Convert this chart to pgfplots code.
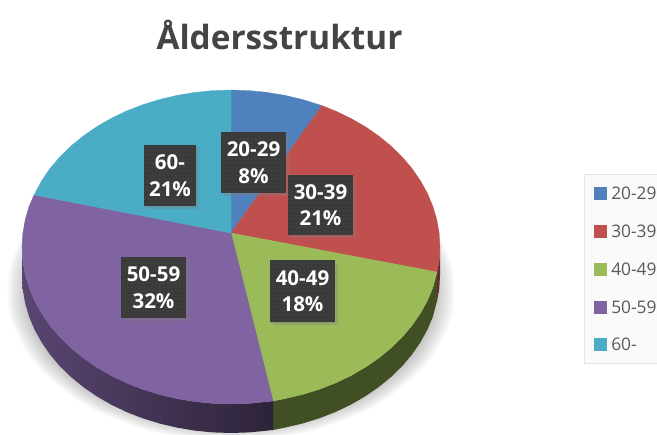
\documentclass[border=0pt]{standalone}
\usepackage{fontspec}
\setmainfont{Open Sans}
\usepackage{pgfplots}
\usepackage{pgfplotstable}
\pgfplotsset{compat=1.18}
\usetikzlibrary{shadows,patterns}
\definecolor{cblue}{HTML}{4F81BD}
\definecolor{cred}{HTML}{C0504D}
\definecolor{cgreen}{HTML}{9BBB59}
\definecolor{cpurple}{HTML}{8064A2}
\definecolor{cteal}{HTML}{4BACC6}
\definecolor{boxc}{HTML}{3A3A3A}
\definecolor{dotc}{HTML}{555555}
\definecolor{titlec}{HTML}{444444}
\definecolor{legc}{HTML}{595959}
\pgfplotstableread{
u v
0 -1
0.342 -0.940
0.643 -0.766
0.866 -0.5
0.985 -0.174
0.985 0.174
0.866 0.5
0.643 0.766
0.342 0.940
0 1
-0.342 0.940
-0.643 0.766
-0.866 0.5
-0.985 0.174
-0.985 -0.174
-0.866 -0.5
-0.643 -0.766
-0.342 -0.940
}\shadowtable
\tikzset{lab/.style={fill=boxc,text=white,font=\fontsize{15.4}{20}\selectfont\bfseries,align=center,
  inner sep=0pt,anchor=center,
  drop shadow={shadow xshift=2pt,shadow yshift=-2pt,opacity=.35},
  postaction={pattern=dots,pattern color=dotc}}}
\begin{document}
\begin{tikzpicture}
\useasboundingbox (0,0) rectangle (492.75pt,326.25pt);
\begin{axis}[at={(0,0)},anchor=south west,scale only axis,width=492.75pt,height=326.25pt,
  xmin=0,xmax=657,ymin=0,ymax=435,y dir=reverse,hide axis,clip=false]
% soft shadow
\pgfplotsinvokeforeach{1,0.99,0.98,0.97,0.96,0.95,0.94,0.93,0.92,0.91}{
\addplot[fill=black,fill opacity=0.028,draw=none,smooth] table[x expr=231+\thisrow{u}*#1*224,y expr=291+\thisrow{v}*#1*150]{\shadowtable} --cycle;
}
% sides
\addplot[draw=none,fill=cred!55!black] coordinates {(437,272)(439.2,260.7)(440,247)(440,276)(439.2,289.7)(437,301)} --cycle;
\addplot[fill=cgreen!42!black,draw=none] coordinates {(437,272)(432.9,287.6)(427.4,300.7)(420.4,313.3)(412,325.5)(402.2,337.1)(391.1,347.9)(378.8,358)(365.3,367.3)(350.9,375.6)(335.5,383)(319.3,389.3)(302.5,394.5)(285.1,398.6)(273,401)(273,430)(285.1,427.6)(302.5,423.5)(319.3,418.3)(335.5,412)(350.9,404.6)(365.3,396.3)(378.8,387)(391.1,376.9)(402.2,366.1)(412,354.5)(420.4,342.3)(427.4,329.7)(432.9,316.6)(437,301)} --cycle;
\addplot[draw=none,left color=cpurple!70!black,right color=cpurple!35!black] coordinates {(273,401)(267.3,401.6)(249.2,403.4)(231,404)(212.8,403.4)(194.7,401.6)(176.9,398.6)(159.5,394.5)(142.7,389.3)(126.5,383)(111.1,375.6)(96.7,367.3)(83.2,358)(70.9,347.9)(59.8,337.1)(50,325.5)(41.6,313.3)(34.6,300.7)(29.1,287.6)(25.2,274.3)(22.8,260.7)(22,247)(22,276)(22.8,289.7)(25.2,303.3)(29.1,316.6)(34.6,329.7)(41.6,342.3)(50,354.5)(59.8,366.1)(70.9,376.9)(83.2,387)(96.7,396.3)(111.1,404.6)(126.5,412)(142.7,418.3)(159.5,423.5)(176.9,427.6)(194.7,430.6)(212.8,432.4)(231,433)(249.2,432.4)(267.3,430.6)(273,430)} --cycle;
% top surface: 20-29 8%, 30-39 21%, 40-49 18%, 50-59 32%, 60- 21%
\addplot[fill=cblue,draw=cblue,line width=.2pt] coordinates {(231,233)(231,90)(249.2,90.6)(267.3,92.4)(285.1,95.4)(302.5,99.5)(322,105.6)} --cycle;
\addplot[fill=cred,draw=cred,line width=.2pt] coordinates {(231,233)(322,105.6)(335.5,111)(350.9,118.4)(365.3,126.7)(378.8,136)(391.1,146.1)(402.2,156.9)(412,168.5)(420.4,180.7)(427.4,193.3)(432.9,206.4)(436.8,219.7)(439.2,233.3)(440,247)(439.2,260.7)(437,272)} --cycle;
\addplot[fill=cgreen,draw=cgreen,line width=.2pt] coordinates {(231,233)(437,272)(432.9,287.6)(427.4,300.7)(420.4,313.3)(412,325.5)(402.2,337.1)(391.1,347.9)(378.8,358)(365.3,367.3)(350.9,375.6)(335.5,383)(319.3,389.3)(302.5,394.5)(285.1,398.6)(273,401)} --cycle;
\addplot[fill=cpurple,draw=cpurple,line width=.2pt] coordinates {(231,233)(273,401)(267.3,401.6)(249.2,403.4)(231,404)(212.8,403.4)(194.7,401.6)(176.9,398.6)(159.5,394.5)(142.7,389.3)(126.5,383)(111.1,375.6)(96.7,367.3)(83.2,358)(70.9,347.9)(59.8,337.1)(50,325.5)(41.6,313.3)(34.6,300.7)(29.1,287.6)(25.2,274.3)(22.8,260.7)(22,247)(22.8,233.3)(25.2,219.7)(29.1,206.4)(34,195)} --cycle;
\addplot[fill=cteal,draw=cteal,line width=.2pt] coordinates {(231,233)(34,195)(41.6,180.7)(50,168.5)(59.8,156.9)(70.9,146.1)(83.2,136)(96.7,126.7)(111.1,118.4)(126.5,111)(142.7,104.7)(159.5,99.5)(176.9,95.4)(194.7,92.4)(212.8,90.6)(231,90)} --cycle;
% legend
\addplot[fill=black!2,draw=black!10,line width=.5pt] coordinates {(584,174)(670,174)(670,363)(584,363)} --cycle;
\addplot[only marks,mark=square*,mark size=4.5pt,color=cblue] coordinates {(600,193)};
\addplot[only marks,mark=square*,mark size=4.5pt,color=cred] coordinates {(600,231)};
\addplot[only marks,mark=square*,mark size=4.5pt,color=cgreen] coordinates {(600,269)};
\addplot[only marks,mark=square*,mark size=4.5pt,color=cpurple] coordinates {(600,307)};
\addplot[only marks,mark=square*,mark size=4.5pt,color=cteal] coordinates {(600,344)};
\foreach \yy/\tt in {193/20-29,231/30-39,269/40-49,307/50-59,344/60-}{
  \edef\temp{\noexpand\node[anchor=west,inner sep=0pt,text=legc,font=\noexpand\fontsize{13}{15}\noexpand\selectfont] at (axis cs:611,\yy) {\tt};}\temp
}
% data labels
\node[lab,minimum width=48.75pt,minimum height=45.75pt] at (axis cs:253.5,162.5) {20-29\\8\%};
\node[lab,minimum width=48.75pt,minimum height=45pt] at (axis cs:320.5,205) {30-39\\21\%};
\node[lab,minimum width=48.75pt,minimum height=46.5pt] at (axis cs:302.5,291) {40-49\\18\%};
\node[lab,minimum width=48.75pt,minimum height=46pt] at (axis cs:153.5,287.5) {50-59\\32\%};
\node[lab,minimum width=39pt,minimum height=45.75pt] at (axis cs:170,175.5) {60-\\21\%};
% title
\node[anchor=base,inner sep=0pt,text=titlec,font=\fontsize{25}{29}\selectfont\bfseries] at (axis cs:279.5,50) {Åldersstruktur};
\end{axis}
\end{tikzpicture}
\end{document}
